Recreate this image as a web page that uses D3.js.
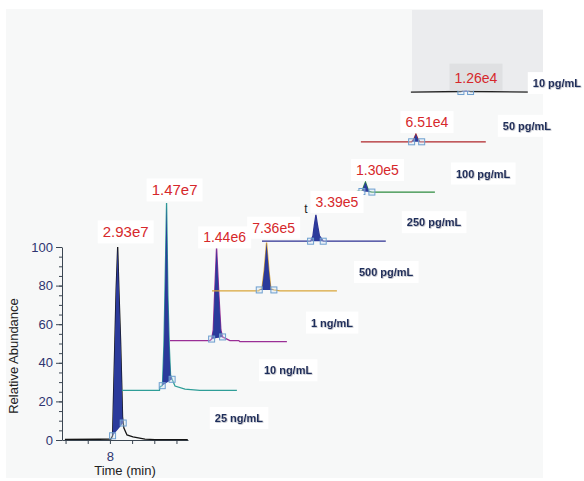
<!DOCTYPE html>
<html>
<head>
<meta charset="utf-8">
<script src="https://cdn.jsdelivr.net/npm/d3@7"></script>
<style>
  html, body { margin: 0; padding: 0; background: #fff; }
  svg { display: block; font-family: "Liberation Sans", Arial, sans-serif; }
</style>
</head>
<body>
<svg id="chart" width="584" height="481"></svg>
<script>
// concentration of each trace, bottom to top
const concentrations = ['25 ng/mL', '10 ng/mL', '1 ng/mL', '500 pg/mL',
  '250 pg/mL', '100 pg/mL', '50 pg/mL', '10 pg/mL'];

// peak intensity shown above each trace
const intensities = ['2.93e7', '1.47e7', '1.44e6', '7.36e5',
  '3.39e5', '1.30e5', '6.51e4', '1.26e4'];

// [time (min), relative abundance] for each trace
const trace25ng = [[7.797, 0.3], [7.95, 0.4], [8.004, 0.5], [8.012, 2.2], [8.015, 17],
  [8.0225, 52], [8.028, 78], [8.035, 100], [8.0405, 78], [8.048, 52], [8.054, 26],
  [8.057, 12], [8.060, 8.8], [8.063, 6.2], [8.077, 2.6], [8.104, 1.6], [8.158, 0.5],
  [8.203, 0.2], [8.351, 0.2]];
const trace10ng = [[7.829, 0], [7.998, 0], [8.000, 1.7], [8.0104, 2.4], [8.012, 4.3],
  [8.018, 23.5], [8.0225, 49.4], [8.030, 97], [8.036, 49.4], [8.042, 23.5], [8.048, 7.9],
  [8.055, 5.7], [8.068, 2.2], [8.113, 0.6], [8.18, 0], [8.347, 0]];
const trace1ng = [[7.820, 0], [8.000, 0], [8.0077, 0.8], [8.015, 5.5], [8.021, 23.6],
  [8.030, 48.3], [8.0405, 23.6], [8.0495, 5.5], [8.057, 1.9], [8.09, 0], [8.13, 0],
  [8.135, -0.5], [8.347, -0.5]];
const trace500pg = [[7.784, 0], [7.995, 0], [7.997, 0.5], [8.009, 1], [8.0194, 10.8],
  [8.030, 25], [8.0405, 10.8], [8.0495, 1], [8.063, 0.5], [8.09, 0], [8.347, 0]];
const trace250pg = [[7.784, 0], [8.003, 0], [8.0135, 2.7], [8.020, 8.4], [8.027, 13.6],
  [8.034, 8.4], [8.043, 2.7], [8.060, 0], [8.342, 0]];
const trace100pg = [[7.986, 0], [8.009, 0], [8.018, 2.8], [8.025, 4.9], [8.0315, 2.8],
  [8.0405, 0], [8.054, -0.3], [8.338, -0.3]];
const trace50pg = [[7.779, 0], [8.0077, 0], [8.018, 1.5], [8.027, 4], [8.036, 1.5],
  [8.045, 0], [8.053, 0], [8.342, 0]];
const trace10pg = [[7.779, 0], [8.0045, 0.3], [8.018, 1], [8.027, 1.8], [8.036, 1],
  [8.048, 0.3], [8.333, 0]];

const traces = [trace25ng, trace10ng, trace1ng, trace500pg,
  trace250pg, trace100pg, trace50pg, trace10pg];

// integration limits of each peak (min)
const peakStart = [8.012, 8.0104, 8.0077, 7.997, 8.003, 8.009, 8.0077, 8.0045];
const peakEnd = [8.060, 8.055, 8.057, 8.063, 8.060, 8.054, 8.053, 8.048];

const yTicks = [0, 20, 40, 60, 80, 100];
const xTicks = [7.8, 7.9, 8.0, 8.1, 8.2, 8.3];

// styling / layout
const TRACE_COLORS = ['#151515', '#2f9e98', '#9a2f96', '#d9a53a',
  '#2e3192', '#2e8b3f', '#b0262a', '#222222'];
const FILL = '#2b3a9b';
const STEP_X = 50, STEP_Y = 49.7;           // waterfall offset per trace (px)
const LABEL_SIZE = [15, 15, 14, 14, 14, 14, 14, 14];
const LABEL_SHIFT = [[8, -15], [8, -13], [8, -10], [7, -15], [21, -13], [12, -12], [11, -12], [10, -11]];
const CONC_SHIFT = [[27, -22], [27, -20], [24, -18], [22, -19], [21, -19], [21, -18], [17, -16], [-1, -9]];

const svg = d3.select('#chart');

const defs = svg.append('defs');
const shadow = defs.append('filter').attr('id', 'soft').attr('x', '-10%').attr('y', '-30%')
  .attr('width', '120%').attr('height', '160%');
shadow.append('feDropShadow').attr('dx', 0.6).attr('dy', 0.6)
  .attr('stdDeviation', 0.7).attr('flood-color', '#7a7f90').attr('flood-opacity', 0.7);

// panels
svg.append('rect').attr('x', 6).attr('y', 9).attr('width', 537).attr('height', 469).attr('fill', '#f7f8f8');
svg.append('rect').attr('x', 412).attr('y', 10).attr('width', 131).attr('height', 82).attr('fill', '#ebecee');

const x = d3.scaleLinear().domain([7.784, 8.352]).range([62, 188]);
const y = d3.scaleLinear().domain([0, 100]).range([440, 247]);

// axes
const axisColor = '#3b4652';
const labelColor = '#2e3470';

const yMinor = svg.append('g').attr('transform', 'translate(62,0)')
  .call(d3.axisLeft(y).tickValues(d3.range(0, 101, 5)).tickSize(3).tickFormat(''));
yMinor.select('.domain').remove();
yMinor.selectAll('line').attr('stroke', axisColor);

const yAxis = svg.append('g').attr('transform', 'translate(62,0)')
  .call(d3.axisLeft(y).tickValues(yTicks).tickSize(6).tickSizeOuter(0).tickPadding(3));
yAxis.select('.domain').attr('stroke', axisColor);
yAxis.selectAll('line').attr('stroke', axisColor);
yAxis.selectAll('text').attr('fill', labelColor).attr('font-size', 13)
  .attr('font-family', '"Liberation Sans", Arial, sans-serif');

const xAxis = svg.append('g').attr('transform', 'translate(0,440)')
  .call(d3.axisBottom(x).tickValues(xTicks).tickSize(4).tickSizeOuter(0).tickPadding(8)
    .tickFormat(d => Math.abs(d - 8) < 1e-9 ? '8' : ''));
xAxis.select('.domain').attr('stroke', axisColor);
xAxis.selectAll('line').attr('stroke', axisColor);
xAxis.selectAll('text').attr('fill', labelColor).attr('font-size', 13)
  .attr('font-family', '"Liberation Sans", Arial, sans-serif');

svg.append('text')
  .attr('transform', 'translate(18,356) rotate(-90)')
  .attr('text-anchor', 'middle').attr('font-size', 13).attr('fill', '#222')
  .text('Relative Abundance');

svg.append('text')
  .attr('x', 125).attr('y', 475)
  .attr('text-anchor', 'middle').attr('font-size', 13).attr('fill', '#222')
  .text('Time (min)');

// traces
const line = d3.line().x(d => x(d[0])).y(d => y(d[1]));

function valueAt(data, t) {
  for (let k = 1; k < data.length; k++) {
    if (t <= data[k][0]) {
      const p = data[k - 1], q = data[k];
      return p[1] + (q[1] - p[1]) * (t - p[0]) / (q[0] - p[0]);
    }
  }
  return data[data.length - 1][1];
}

const traceLayer = svg.append('g');
const labelLayer = svg.append('g');

traces.forEach((data, i) => {
  const shift = 'translate(' + (i * STEP_X) + ',' + (-i * STEP_Y) + ')';
  const g = traceLayer.append('g').attr('transform', shift);

  const t0 = peakStart[i], t1 = peakEnd[i];
  const a0 = valueAt(data, t0), a1 = valueAt(data, t1);
  const peak = data.filter(d => d[0] >= t0 && d[0] <= t1);

  g.append('path').datum(data)
    .attr('d', line)
    .attr('fill', 'none')
    .attr('stroke', TRACE_COLORS[i])
    .attr('stroke-width', 1.3);

  const area = d3.area()
    .x(d => x(d[0]))
    .y1(d => y(d[1]))
    .y0(d => y(a0 + (a1 - a0) * (d[0] - t0) / (t1 - t0)));
  g.append('path').datum(peak)
    .attr('d', area)
    .attr('fill', FILL);

  // integration markers
  g.selectAll('rect.mark')
    .data([[t0, a0], [t1, a1]])
    .join('rect')
    .attr('class', 'mark')
    .attr('x', d => x(d[0]) - 3)
    .attr('y', d => y(d[1]) - 3)
    .attr('width', 6).attr('height', 6)
    .attr('fill', 'rgba(210,228,245,0.35)')
    .attr('stroke', '#6d9fcf')
    .attr('stroke-width', 1);

  const apex = data.reduce((m, d) => d[1] > m[1] ? d : m, data[0]);

  // stray annotation next to the 250 pg/mL peak
  if (i === 4) {
    g.append('text')
      .attr('x', x(apex[0]) - 10).attr('y', y(apex[1]) - 2)
      .attr('text-anchor', 'middle').attr('font-size', 12).attr('fill', '#222')
      .text('t');
  }

  const lg = labelLayer.append('g').attr('transform', shift);

  // intensity label
  const lx = x(apex[0]) + LABEL_SHIFT[i][0];
  const ly = y(apex[1]) + LABEL_SHIFT[i][1];
  const lab = lg.append('g');
  const txt = lab.append('text')
    .attr('x', lx).attr('y', ly + LABEL_SIZE[i] * 0.36)
    .attr('text-anchor', 'middle')
    .attr('font-size', LABEL_SIZE[i])
    .attr('fill', '#d6282b')
    .text(intensities[i]);
  const bb = txt.node().getBBox();
  const last = i === traces.length - 1;
  lab.insert('rect', 'text')
    .attr('x', bb.x - 5).attr('y', last ? bb.y - 6 : bb.y - 3)
    .attr('width', bb.width + 10).attr('height', last ? bb.height + 11 : bb.height + 6)
    .attr('fill', last ? '#dfe0e2' : '#ffffff');

  // concentration label
  const endPt = data[data.length - 1];
  const cx = x(endPt[0]) + CONC_SHIFT[i][0];
  const cy = y(0) + CONC_SHIFT[i][1];
  const cg = lg.append('g');
  const ct = cg.append('text')
    .attr('x', cx).attr('y', cy + 4)
    .attr('font-size', 11).attr('font-weight', 'bold')
    .attr('fill', '#1f2d5b')
    .attr('filter', 'url(#soft)')
    .text(concentrations[i]);
  const cb = ct.node().getBBox();
  cg.insert('rect', 'text')
    .attr('x', cb.x - 5).attr('y', cb.y - 5)
    .attr('width', cb.width + 10).attr('height', cb.height + 10)
    .attr('fill', '#ffffff');
});
</script>
</body>
</html>
